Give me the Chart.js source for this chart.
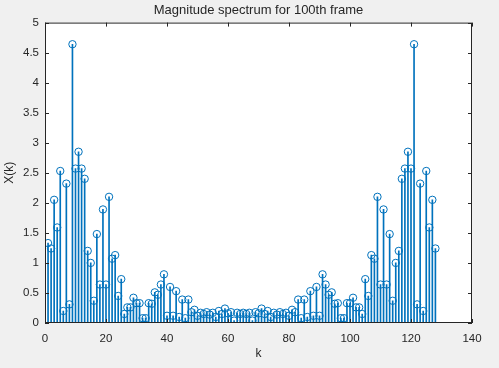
<!DOCTYPE html>
<html>
<head>
<meta charset="utf-8">
<script src="https://cdn.jsdelivr.net/npm/chart.js@4.4.1/dist/chart.umd.min.js"></script>
<style>
  html, body { margin: 0; padding: 0; background: #f0f0f0; }
  #wrap { width: 499px; height: 368px; }
</style>
</head>
<body>
<div id="wrap"><canvas id="spec" width="499" height="368"></canvas></div>
<script>
// datos: |X(k)| del frame 100, k = 1..128
const magnitudes = [
  1.33, 1.24, 2.05, 1.59, 2.53, 0.20, 2.32, 0.31, 4.64, 2.57,
  2.85, 2.57, 2.40, 1.20, 1.00, 0.37, 1.48, 0.64, 1.89, 0.64,
  2.10, 1.07, 1.13, 0.45, 0.73, 0.15, 0.26, 0.26, 0.42, 0.33,
  0.33, 0.08, 0.08, 0.33, 0.32, 0.51, 0.47, 0.64, 0.81, 0.12,
  0.60, 0.12, 0.53, 0.10, 0.39, 0.08, 0.39, 0.18, 0.22, 0.12,
  0.17, 0.15, 0.18, 0.14, 0.17, 0.10, 0.20, 0.15, 0.24, 0.16,
  0.18, 0.04, 0.17, 0.15, 0.17, 0.15, 0.17, 0.04, 0.18, 0.16,
  0.24, 0.15, 0.20, 0.10, 0.17, 0.14, 0.18, 0.15, 0.17, 0.12,
  0.22, 0.18, 0.39, 0.08, 0.39, 0.10, 0.53, 0.12, 0.60, 0.12,
  0.81, 0.64, 0.47, 0.51, 0.32, 0.33, 0.08, 0.08, 0.33, 0.33,
  0.42, 0.26, 0.26, 0.15, 0.73, 0.45, 1.13, 1.07, 2.10, 0.64,
  1.89, 0.64, 1.48, 0.37, 1.00, 1.20, 2.40, 2.57, 2.85, 2.57,
  4.64, 0.31, 2.32, 0.20, 2.53, 1.59, 2.05, 1.24
];
const xTicks = [0, 20, 40, 60, 80, 100, 120, 140];
const yTicks = [0, 0.5, 1, 1.5, 2, 2.5, 3, 3.5, 4, 4.5, 5];

const stemColor = '#0072BD';
const axisColor = '#262626';
const fontFamily = 'Arial, "Liberation Sans", Helvetica, sans-serif';

const points = magnitudes.map((v, i) => ({ x: i + 1, y: v }));

// marco y ticks hacia adentro, estilo MATLAB
const boxPlugin = {
  id: 'boxPlugin',
  afterDraw(chart) {
    const { ctx, chartArea: a, scales } = chart;
    const len = 4;
    ctx.save();
    ctx.strokeStyle = axisColor;
    ctx.lineWidth = 1;
    ctx.strokeRect(a.left + 0.5, a.top + 0.5, a.right - a.left - 1, a.bottom - a.top - 1);
    ctx.beginPath();
    xTicks.forEach(t => {
      const px = Math.round(scales.x.getPixelForValue(t)) + 0.5;
      ctx.moveTo(px, a.bottom); ctx.lineTo(px, a.bottom - len);
      ctx.moveTo(px, a.top); ctx.lineTo(px, a.top + len);
    });
    yTicks.forEach(t => {
      const py = Math.round(scales.y.getPixelForValue(t)) + 0.5;
      ctx.moveTo(a.left, py); ctx.lineTo(a.left + len, py);
      ctx.moveTo(a.right, py); ctx.lineTo(a.right - len, py);
    });
    ctx.stroke();
    ctx.restore();
  }
};

const bgPlugin = {
  id: 'bgPlugin',
  beforeDraw(chart) {
    const { ctx, chartArea: a } = chart;
    ctx.save();
    ctx.fillStyle = '#f0f0f0';
    ctx.fillRect(0, 0, chart.width, chart.height);
    ctx.fillStyle = '#ffffff';
    ctx.fillRect(a.left, a.top, a.right - a.left, a.bottom - a.top);
    ctx.restore();
  }
};

new Chart(document.getElementById('spec').getContext('2d'), {
  type: 'bar',
  data: {
    datasets: [
      {
        type: 'scatter',
        data: points,
        pointStyle: 'circle',
        pointRadius: 3.7,
        pointBorderWidth: 1,
        borderColor: stemColor,
        backgroundColor: 'rgba(0,0,0,0)',
        order: 0
      },
      {
        type: 'bar',
        data: points,
        barThickness: 1,
        backgroundColor: stemColor,
        borderWidth: 0,
        order: 1
      }
    ]
  },
  options: {
    responsive: false,
    animation: false,
    devicePixelRatio: 1,
    layout: { padding: { left: 0, right: 27, top: 0, bottom: 0 } },
    plugins: {
      legend: { display: false },
      tooltip: { enabled: false },
      title: {
        display: true,
        fullSize: false,
        text: 'Magnitude spectrum for 100th frame',
        color: axisColor,
        font: { family: fontFamily, size: 13, weight: 'normal' },
        padding: { top: 3, bottom: 4 }
      }
    },
    scales: {
      x: {
        type: 'linear',
        min: 0, max: 140,
        offset: false,
        afterFit: s => { s.height = 45; },
        afterBuildTicks: s => { s.ticks = xTicks.map(v => ({ value: v })); },
        grid: { display: false, drawTicks: false },
        border: { display: false },
        ticks: { color: axisColor, padding: 9, maxRotation: 0, font: { family: fontFamily, size: 11.5 } },
        title: { display: true, text: 'k', color: axisColor, padding: { top: 0, bottom: 7 }, font: { family: fontFamily, size: 12 } }
      },
      y: {
        type: 'linear',
        min: 0, max: 5,
        afterFit: s => { s.width = 45; },
        afterBuildTicks: s => { s.ticks = yTicks.map(v => ({ value: v })); },
        grid: { display: false, drawTicks: false },
        border: { display: false },
        ticks: {
          color: axisColor, padding: 6,
          font: { family: fontFamily, size: 11.5 },
          callback: v => String(v)
        },
        title: { display: true, text: 'X(k)', color: axisColor, padding: { top: 2, bottom: 0 }, font: { family: fontFamily, size: 12 } }
      }
    }
  },
  plugins: [bgPlugin, boxPlugin]
});
</script>
</body>
</html>
